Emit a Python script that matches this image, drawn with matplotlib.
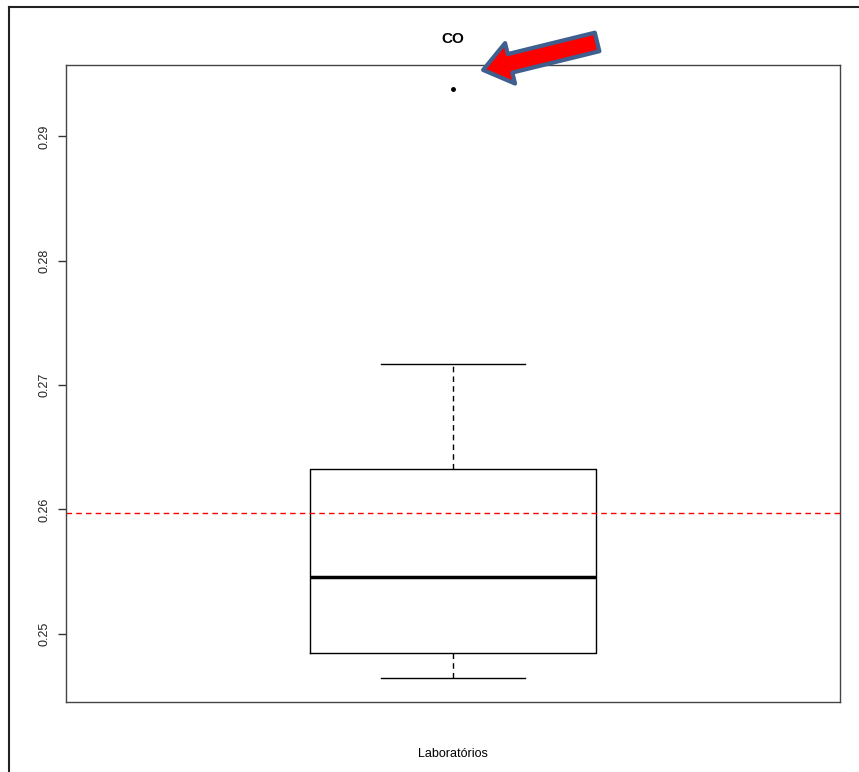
import matplotlib.pyplot as plt
from matplotlib.lines import Line2D

plt.rcParams['font.family'] = ['Liberation Sans', 'DejaVu Sans']

# box statistics
labels = ["CO"]
q1 = [0.24848]
med = [0.25456]
q3 = [0.26328]
whislo = [0.2464]
whishi = [0.27168]
fliers = [[0.29385]]
ref_line = 0.25968

stats = []
for i in range(len(labels)):
    stats.append(dict(label=labels[i], q1=q1[i], med=med[i], q3=q3[i],
                      whislo=whislo[i], whishi=whishi[i], fliers=fliers[i]))

fig = plt.figure(figsize=(8.59, 7.72), dpi=100)
ax = fig.add_axes([66 / 859, 1 - 702 / 772, 774 / 859, 637 / 772])

ax.bxp(stats, positions=[1], widths=0.4, showcaps=True,
       boxprops=dict(color='black', lw=1),
       medianprops=dict(color='black', lw=2.5, solid_capstyle='butt'),
       whiskerprops=dict(color='black', lw=1, linestyle=(0, (4, 3))),
       capprops=dict(color='black', lw=1), capwidths=0.2,
       flierprops=dict(marker='o', markersize=2.5, markerfacecolor='black',
                       markeredgecolor='black'))

ax.axhline(ref_line, color='red', lw=1, linestyle=(0, (4, 3)))

lo = min(whislo + [min(f) for f in fliers])
hi = max(whishi + [max(f) for f in fliers])
pad = (hi - lo) * 0.04
ax.set_ylim(lo - pad, hi + pad)
ax.set_xlim(0.46, 1.54)

ax.set_xticks([])
ax.set_yticks([0.25, 0.26, 0.27, 0.28, 0.29])
ax.set_yticklabels(['0.25', '0.26', '0.27', '0.28', '0.29'], rotation=90,
                   va='center', fontsize=9, color='#222222')
ax.tick_params(axis='y', length=6, width=1, pad=5, color='#333333')
for s in ax.spines.values():
    s.set_color('#444444')
    s.set_linewidth(1)

ax.set_title(labels[0], fontsize=11, fontweight='bold', pad=16)
ax.set_xlabel('Laboratórios', fontsize=9, labelpad=33)

# pointer arrow toward the outlier
ax.annotate('', xy=(1.042, fliers[0][0] + 0.0015), xytext=(114, 28),
            textcoords='offset pixels',
            arrowprops=dict(arrowstyle='simple,head_length=0.8,head_width=1.2,tail_width=0.55',
                            mutation_scale=25, fc='red', ec='#3f5f8f', lw=3,
                            shrinkA=0, shrinkB=0, joinstyle='round'),
            annotation_clip=False)

# outer frame of the screenshot
fig.add_artist(Line2D([9 / 859, 9 / 859], [0, 1 - 7 / 772], color='#222222', lw=1.5))
fig.add_artist(Line2D([9 / 859, 1], [1 - 7 / 772, 1 - 7 / 772], color='#222222', lw=1.5))

fig.savefig('out.png', dpi=100)
